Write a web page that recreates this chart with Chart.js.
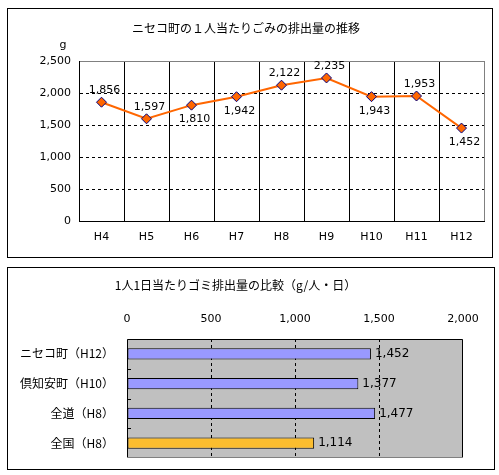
<!DOCTYPE html>
<html>
<head>
<meta charset="utf-8">
<script src="https://cdn.jsdelivr.net/npm/chart.js@4.4.1/dist/chart.umd.min.js"></script>
<style>
  body { margin: 0; background: #fff; }
  .box { position: absolute; border: 1px solid #000; background: #fff; }
  #box1 { left: 7px; top: 8px; width: 484px; height: 248px; }
  #box2 { left: 7px; top: 267px; width: 486px; height: 201px; }
  canvas { display: block; }
</style>
</head>
<body>
<div class="box" id="box1"><canvas id="chartSuii" width="484" height="248"></canvas></div>
<div class="box" id="box2"><canvas id="chartHikaku" width="486" height="201"></canvas></div>
<script>
// 推移データ
const nendo = ['H4', 'H5', 'H6', 'H7', 'H8', 'H9', 'H10', 'H11', 'H12'];
const haishutsuryo = [1856, 1597, 1810, 1942, 2122, 2235, 1943, 1953, 1452];

// 比較データ
const chiiki = ['ニセコ町（H12）', '倶知安町（H10）', '全道（H8）', '全国（H8）'];
const hikakuValues = [1452, 1377, 1477, 1114];
const hikakuColors = ['#9999FF', '#9999FF', '#9999FF', '#FBBD2F'];

const fontJP = '"Noto Sans CJK JP", sans-serif';
const fontNum = '"DejaVu Sans", sans-serif';
const fmt = v => Number(v).toLocaleString('en-US');

Chart.defaults.animation = false;
Chart.defaults.color = '#000';

// 上のグラフ: ラベルと「g」
const etiquetasLinea = {
  id: 'etiquetasLinea',
  afterDatasetsDraw(chart, args, opts) {
    const ctx = chart.ctx;
    const meta = chart.getDatasetMeta(0);
    ctx.save();
    ctx.font = '11px ' + fontNum;
    ctx.fillStyle = '#000';
    ctx.textAlign = 'center';
    ctx.textBaseline = 'middle';
    meta.data.forEach((pt, i) => {
      const dy = opts.side[i] === 'up' ? -12 : 14;
      ctx.fillText(fmt(chart.data.datasets[0].data[i]), pt.x + 3, pt.y + dy);
    });
    const a = chart.chartArea;
    ctx.fillText('g', a.left - 16, a.top - 16);
    ctx.restore();
  }
};

const ctx1 = document.getElementById('chartSuii').getContext('2d');
new Chart(ctx1, {
  type: 'line',
  data: {
    labels: nendo,
    datasets: [{
      data: haishutsuryo,
      borderColor: '#FF6600',
      borderWidth: 2,
      backgroundColor: '#FF6600',
      pointStyle: 'rectRot',
      pointRadius: 5,
      pointBorderColor: '#000080',
      pointBorderWidth: 1,
      tension: 0
    }]
  },
  options: {
    responsive: false,
    layout: { padding: { left: 0, right: 8, top: 0, bottom: 4 } },
    plugins: {
      legend: { display: false },
      tooltip: { enabled: false },
      title: {
        display: true,
        text: 'ニセコ町の１人当たりごみの排出量の推移',
        font: { family: fontJP, size: 12, weight: 'normal' },
        color: '#000',
        padding: { top: 12, bottom: 25.6 }
      },
      etiquetasLinea: { side: ['up', 'up', 'down', 'down', 'up', 'up', 'down', 'up', 'down'] }
    },
    scales: {
      x: {
        offset: true,
        grid: {
          offset: true,
          drawTicks: false,
          color: c => c.type === 'scale' ? '#808080' : '#000'
        },
        border: { color: '#000' },
        ticks: { padding: 9.4, font: { family: fontNum, size: 11 }, color: '#000' }
      },
      y: {
        min: 0, max: 2500,
        afterFit: s => { s.width = 71; },
        grid: {
          drawTicks: false,
          color: c => c.tick && c.tick.value === 2500 ? '#808080' : '#000'
        },
        border: {
          color: '#000',
          dash: c => (c.type === 'tick' && c.tick.value > 0 && c.tick.value < 2500) ? [3, 3] : []
        },
        ticks: { stepSize: 500, padding: 8, font: { family: fontNum, size: 11 }, color: '#000', callback: v => fmt(v) }
      }
    }
  },
  plugins: [etiquetasLinea]
});

// 下のグラフ: 背景・枠・目盛り・ラベル
const marcoBarras = {
  id: 'marcoBarras',
  beforeDraw(chart) {
    const a = chart.chartArea, ctx = chart.ctx;
    ctx.save();
    ctx.fillStyle = '#C0C0C0';
    ctx.fillRect(a.left, a.top, a.right - a.left, a.bottom - a.top);
    ctx.restore();
  },
  afterDatasetsDraw(chart) {
    const a = chart.chartArea, ctx = chart.ctx;
    const ys = chart.scales.y;
    ctx.save();
    ctx.lineWidth = 1;
    ctx.strokeStyle = '#000';
    ctx.beginPath();
    ctx.moveTo(a.left + 0.5, a.bottom);
    ctx.lineTo(a.left + 0.5, a.top + 0.5);
    ctx.lineTo(a.right - 0.5, a.top + 0.5);
    ctx.lineTo(a.right - 0.5, a.bottom);
    ctx.stroke();
    ctx.strokeStyle = '#808080';
    ctx.beginPath();
    ctx.moveTo(a.left, a.bottom - 0.5);
    ctx.lineTo(a.right, a.bottom - 0.5);
    ctx.stroke();
    // 内向きの目盛り
    ctx.strokeStyle = '#000';
    for (let i = 1; i < chart.data.labels.length; i++) {
      const y = Math.round((ys.getPixelForTick(i - 1) + ys.getPixelForTick(i)) / 2) + 0.5;
      ctx.beginPath();
      ctx.moveTo(a.left, y);
      ctx.lineTo(a.left + 4, y);
      ctx.stroke();
    }
    // 値ラベル
    const meta = chart.getDatasetMeta(0);
    ctx.font = '12px ' + fontNum;
    ctx.fillStyle = '#000';
    ctx.textAlign = 'left';
    ctx.textBaseline = 'middle';
    meta.data.forEach((bar, i) => {
      ctx.fillText(fmt(chart.data.datasets[0].data[i]), bar.x + 4, bar.y);
    });
    ctx.restore();
  }
};

const ctx2 = document.getElementById('chartHikaku').getContext('2d');
new Chart(ctx2, {
  type: 'bar',
  data: {
    labels: chiiki,
    datasets: [{
      data: hikakuValues,
      backgroundColor: hikakuColors,
      borderColor: '#000',
      borderWidth: 1,
      borderSkipped: false,
      categoryPercentage: 1,
      barPercentage: 0.37
    }]
  },
  options: {
    indexAxis: 'y',
    responsive: false,
    layout: { padding: { left: 0, right: 31, top: 0, bottom: 11 } },
    plugins: {
      legend: { display: false },
      tooltip: { enabled: false },
      title: {
        display: true,
        text: '1人1日当たりゴミ排出量の比較（g/人・日）',
        font: { family: fontJP, size: 12, weight: 'normal' },
        color: '#000',
        padding: { top: 10, bottom: 6.6 }
      }
    },
    scales: {
      x: {
        position: 'top',
        min: 0, max: 2000,
        grid: {
          drawTicks: false,
          color: c => (c.tick && c.tick.value > 0 && c.tick.value < 2000) ? '#000' : 'rgba(0,0,0,0)'
        },
        border: { display: false, dash: [3, 3] },
        ticks: { stepSize: 500, padding: 13.4, font: { family: fontNum, size: 11 }, color: '#000', callback: v => fmt(v) }
      },
      y: {
        afterFit: s => { s.width = 119; },
        grid: { display: false, drawTicks: true, tickLength: 13 },
        border: { display: false },
        ticks: { padding: 0, font: { family: fontJP, size: 12 }, color: '#000' }
      }
    }
  },
  plugins: [marcoBarras]
});
</script>
</body>
</html>
